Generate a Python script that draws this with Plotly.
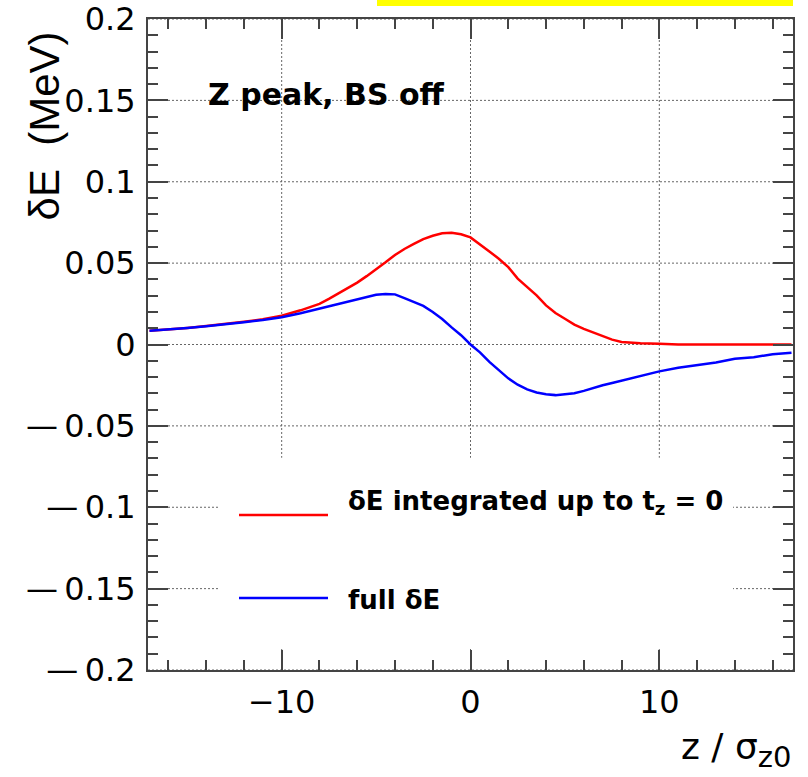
import plotly.graph_objects as go

# ---- data ----
z_vals = [-17, -16, -15, -14, -13, -12, -11, -10, -9, -8,
          -7.5, -7, -6.5, -6, -5.5, -5, -4.5, -4, -3.5, -3,
          -2.5, -2, -1.5, -1, -0.5, 0, 0.5, 1, 1.5, 2,
          2.5, 3, 3.5, 4, 4.5, 5, 5.5, 6, 6.5, 7,
          7.5, 8, 9, 10, 11, 12, 13, 14, 15, 16, 17]

dE_integrated = [0.0085, 0.0092, 0.0102, 0.0113, 0.0125, 0.0140, 0.0155, 0.0177, 0.0210, 0.0250,
                 0.0280, 0.0312, 0.0346, 0.0380, 0.0420, 0.0460, 0.0505, 0.0550, 0.0587, 0.0618,
                 0.0648, 0.0668, 0.0683, 0.0687, 0.0677, 0.0658, 0.0617, 0.0572, 0.0527, 0.0475,
                 0.0405, 0.0352, 0.0302, 0.0240, 0.0193, 0.0158, 0.0122, 0.0096, 0.0073, 0.0052,
                 0.0030, 0.0016, 0.0008, 0.0005, 0.0, 0.0, 0.0, 0.0, 0.0, 0.0, 0.0]

dE_full = [0.0085, 0.0092, 0.0102, 0.0112, 0.0123, 0.0137, 0.0150, 0.0168, 0.0192, 0.0220,
           0.0235, 0.0248, 0.0264, 0.0280, 0.0293, 0.0306, 0.0311, 0.0308, 0.0285, 0.0262,
           0.0237, 0.0200, 0.0157, 0.0105, 0.0057, 0.0000, -0.0048, -0.0107, -0.0157, -0.0208,
           -0.0247, -0.0276, -0.0295, -0.0306, -0.0311, -0.0307, -0.0299, -0.0285, -0.0267, -0.0250,
           -0.0236, -0.0222, -0.0195, -0.0165, -0.0143, -0.0125, -0.0111, -0.0088, -0.0078, -0.0060, -0.0051]

x_tick_vals = [-10, 0, 10]
x_tick_text = ["\u221210", "0", "10"]
y_tick_vals = [-0.2, -0.15, -0.1, -0.05, 0, 0.05, 0.1, 0.15, 0.2]
# the vertical axis labels in the reference use a long minus dash
y_tick_text = ["\u2014\u20090.2", "\u2014\u20090.15", "\u2014\u20090.1", "\u2014\u20090.05", "0",
               "0.05", "0.1", "0.15", "0.2"]

legend_labels = ["\u03b4E integrated up to t<sub>z</sub> = 0", "full \u03b4E"]
label_text = "Z peak, BS off"
x_title = "z / \u03c3<sub><span style=\"font-size:29px\">z0</span></sub>"
y_title = "\u03b4E\u00a0\u00a0(MeV)"

RED = "#ff0000"
BLUE = "#0000ff"
AX = "#444444"
GRID = "#666666"

fig = go.Figure()
fig.add_trace(go.Scatter(x=z_vals, y=dE_integrated, mode="lines",
                         line=dict(color=RED, width=2.5), showlegend=False))
fig.add_trace(go.Scatter(x=z_vals, y=dE_full, mode="lines",
                         line=dict(color=BLUE, width=2.5), showlegend=False))

tickfont = dict(family="DejaVu Sans", size=32, color="#000000")

fig.update_xaxes(range=[-17.08, 17.08], tickmode="array", tickvals=x_tick_vals, ticktext=x_tick_text,
                 ticks="inside", ticklen=20, tickwidth=2, tickcolor=AX,
                 showline=True, linecolor=AX, linewidth=2, mirror="allticks",
                 showgrid=False, zeroline=False, tickfont=tickfont, ticklabelstandoff=3,
                 automargin=False,
                 minor=dict(tickmode="linear", tick0=0, dtick=2, ticks="inside", ticklen=10,
                            tickwidth=2, tickcolor=AX, showgrid=False))
fig.update_yaxes(range=[-0.2, 0.2], tickmode="array", tickvals=y_tick_vals, ticktext=y_tick_text,
                 ticks="inside", ticklen=20, tickwidth=2, tickcolor=AX,
                 showline=True, linecolor=AX, linewidth=2, mirror="allticks",
                 showgrid=False, zeroline=False, tickfont=tickfont, ticklabelstandoff=4,
                 automargin=False,
                 minor=dict(tickmode="linear", tick0=0, dtick=0.01, ticks="inside", ticklen=10,
                            tickwidth=2, tickcolor=AX, showgrid=False))

shapes = []
# dotted grid lines at the major ticks
for xv in x_tick_vals:
    shapes.append(dict(type="line", xref="x", yref="paper", x0=xv, x1=xv, y0=0, y1=1,
                       line=dict(color=GRID, width=1, dash="2px,2px"), layer="below"))
for yv in y_tick_vals:
    shapes.append(dict(type="line", xref="paper", yref="y", x0=0, x1=1, y0=yv, y1=yv,
                       line=dict(color=GRID, width=1, dash="2px,2px"), layer="below"))
# white legend box hiding the grid
shapes.append(dict(type="rect", xref="paper", yref="paper", x0=(218 - 148) / 645, x1=(733 - 148) / 645,
                   y0=(670 - 649) / 651, y1=(670 - 457.7) / 651, fillcolor="white",
                   line=dict(width=0), layer="below"))
# legend samples
shapes.append(dict(type="line", xref="paper", yref="paper", x0=(239 - 148) / 645, x1=(328 - 148) / 645,
                   y0=(670 - 515) / 651, y1=(670 - 515) / 651, line=dict(color=RED, width=2.5)))
shapes.append(dict(type="line", xref="paper", yref="paper", x0=(239 - 148) / 645, x1=(328 - 148) / 645,
                   y0=(670 - 598) / 651, y1=(670 - 598) / 651, line=dict(color=BLUE, width=2.5)))
# yellow strip at the top
shapes.append(dict(type="rect", xref="paper", yref="paper", x0=(377 - 148) / 645, x1=1.0,
                   y0=(670 - 777 + 771) / 651, y1=(670 + 1) / 651, fillcolor="#ffff00",
                   line=dict(width=0)))

annotations = [
    dict(text="<b>" + label_text + "</b>", xref="paper", yref="paper",
         x=(206 - 148) / 645, y=(670 - 95) / 651, xanchor="left", yanchor="middle",
         showarrow=False, font=dict(family="DejaVu Sans", size=30, color="#000000")),
    dict(text="<b>" + legend_labels[0] + "</b>", xref="paper", yref="paper",
         x=(346 - 148) / 645, y=(670 - 502) / 651, xanchor="left", yanchor="middle",
         showarrow=False, font=dict(family="DejaVu Sans", size=26, color="#000000")),
    dict(text="<b>" + legend_labels[1] + "</b>", xref="paper", yref="paper",
         x=(346 - 148) / 645, y=(670 - 600) / 651, xanchor="left", yanchor="middle",
         showarrow=False, font=dict(family="DejaVu Sans", size=26, color="#000000")),
    dict(text=x_title, xref="paper", yref="paper", x=1.0, y=(670 - 750) / 651,
         xanchor="right", yanchor="middle", showarrow=False,
         font=dict(family="DejaVu Sans", size=36, color="#000000")),
    dict(text=y_title, xref="paper", yref="paper", x=(44 - 148) / 645, y=(670 - 30) / 651,
         xanchor="center", yanchor="top", textangle=-90, showarrow=False,
         font=dict(family="Liberation Sans", size=42, color="#000000")),
]

fig.update_layout(width=808, height=777, margin=dict(l=148, r=15, t=19, b=107),
                  paper_bgcolor="white", plot_bgcolor="white",
                  shapes=shapes, annotations=annotations, showlegend=False)

fig.write_html("out.html")
